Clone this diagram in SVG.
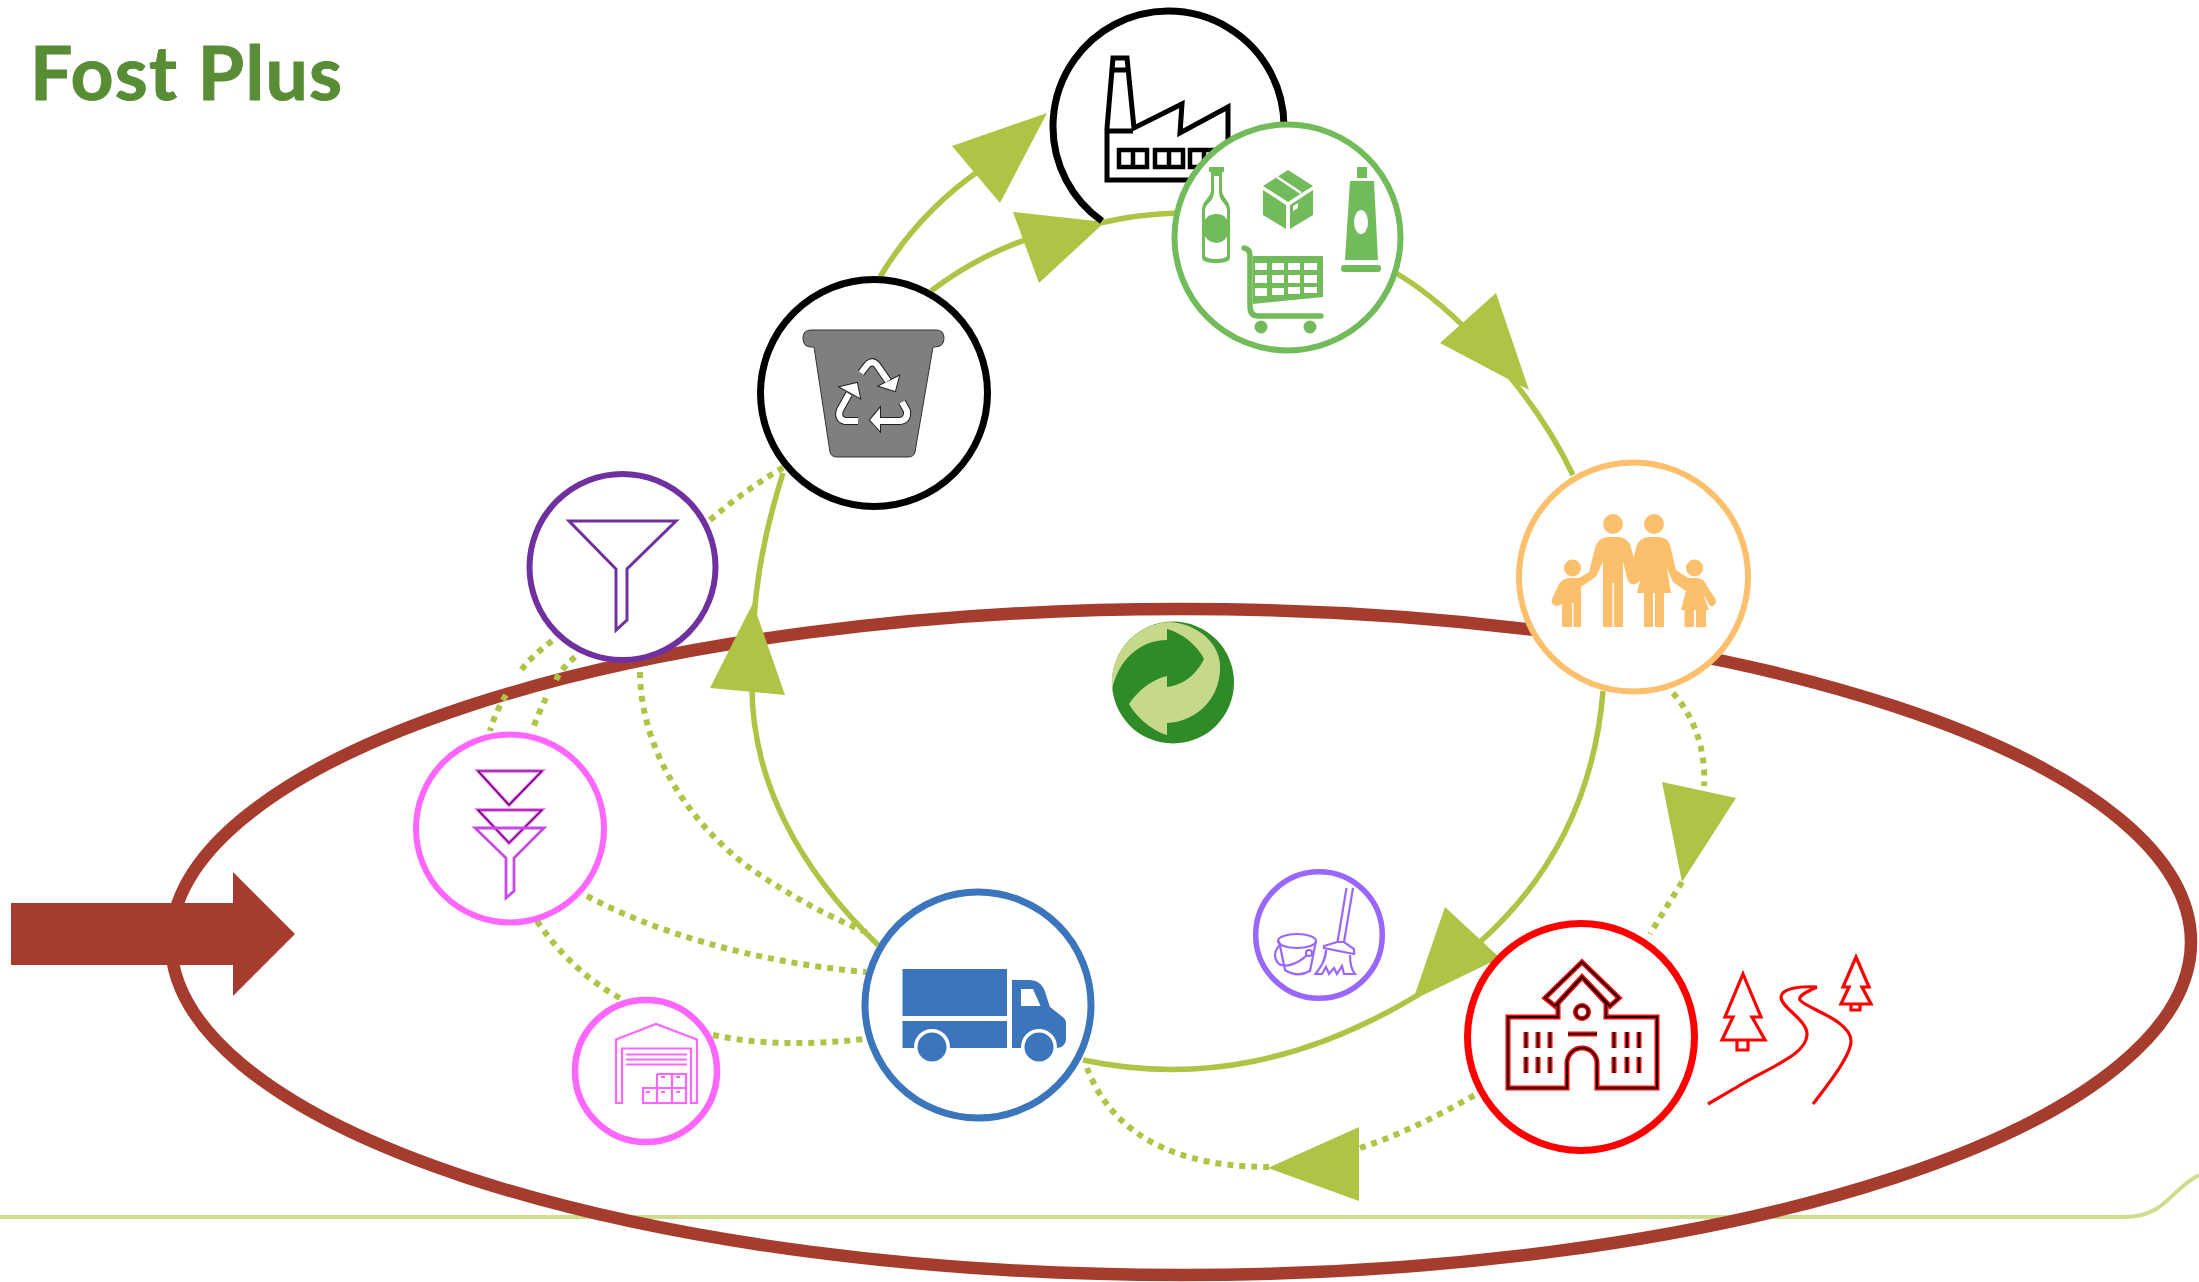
<svg xmlns="http://www.w3.org/2000/svg" width="2199" height="1282" viewBox="0 0 2199 1282">
<style>
.sol{fill:none;stroke:#AEC445;stroke-width:5.5}
.dot{fill:none;stroke:#AEC445;stroke-width:6;stroke-dasharray:6 6}
.head{fill:#AEC445}
.blk{fill:none;stroke:#000;stroke-width:5}
.grn{fill:#72BB5A}
.bw{fill:#fff}
.fam{fill:#FCBF6B}
.rw{fill:none;stroke:#FF0000;stroke-width:5}
.rk{fill:none;stroke:#200000;stroke-width:2}
.rd{fill:none;stroke:#FF0000;stroke-width:3.2}
.mg{fill:none;stroke:#FF66FF;stroke-width:2.2}
.pr{fill:none;stroke:#9966FF;stroke-width:2.2}
</style>
<rect width="2199" height="1282" fill="#fff"/>
<text id="title" x="30" y="100" font-family="Lato, 'Open Sans', sans-serif" font-weight="700" font-size="75" fill="#588D35" stroke="#588D35" stroke-width="1" textLength="312" lengthAdjust="spacing">Fost Plus</text>

<path id="baseline" d="M0,1217 H2125 C2165,1217 2170,1190 2199,1175" fill="none" stroke="#CFDC8C" stroke-width="4"/>
<ellipse id="boundary" cx="1181" cy="942" rx="1010" ry="333" fill="none" stroke="#A63C2E" stroke-width="12.5"/>
<polygon id="entry-arrow" points="11,903 233,903 233,872 295,934 233,996 233,965 11,965" fill="#A63C2E"/>

<g id="connectors">
<path class="dot" d="M710,520 Q745,490 784,467"/>
<path class="dot" d="M552,641 C540,650 528,660 520,672 M506,695 C498,708 493,720 490,731"/>
<path class="dot" d="M575,657 C567,664 560,671 556,680 M546,698 C541,708 536,720 532,731"/>
<path class="dot" d="M640,672 C640,740 680,815 747,866 C785,893 825,915 868,933"/>
<path class="dot" d="M587,896 C650,930 750,962 866,972"/>
<path class="dot" d="M537,921 C560,955 590,982 620,998"/>
<path class="dot" d="M713,1035 C760,1045 810,1045 864,1039"/>
<path class="dot" d="M1087,1068 C1105,1115 1150,1167 1269,1167"/>
<path class="dot" d="M1360,1148 C1400,1135 1440,1115 1480,1092"/>
<path class="dot" d="M1673,693 C1697,720 1706,755 1704,786"/>
<path class="dot" d="M1682,882 L1650,934"/>
<path class="sol" d="M880,277 C905,235 940,198 980,170"/>
<path class="sol" d="M931,291 C985,250 1040,230 1105,222 C1130,216 1150,214 1176,213"/>
<path class="sol" d="M1396,273 C1450,305 1530,385 1573,475"/>
<path class="sol" d="M1603,691 C1595,790 1555,875 1480,942"/>
<path class="sol" d="M1083,1060 C1200,1085 1310,1060 1418,995"/>
<path class="sol" d="M878,945 C800,870 750,780 752,680 C751,600 762,540 783,473"/>
<polygon class="head" points="1047,113 952,146 1000,203"/>
<polygon class="head" points="1105,222 1013,212 1039,283"/>
<polygon class="head" points="1529,390 1496,293 1440,343"/>
<polygon class="head" points="1500,958 1445,907 1413,1000"/>
<polygon class="head" points="753,603 710,688 785,695"/>
<polygon class="head" points="1268,1168 1359,1127 1359,1201"/>
<polygon class="head" points="1682,882 1736,798 1662,782"/>
</g>

<g id="node-factory">
<path d="M1102,221 A115.5,115.5 0 1 1 1284,126" fill="none" stroke="#000" stroke-width="7"/>
<path class="blk" d="M1107,180 V128 L1113,58 H1127 L1134,128 L1182,104 L1180,133 L1228,107 V180 Z"/>
<path class="blk" d="M1107,131 H1133 M1112,70 H1128"/>
<g class="blk" style="stroke-width:4.5"><rect x="1119" y="150" width="28" height="17"/><rect x="1155" y="150" width="28" height="17"/><rect x="1190" y="150" width="28" height="17"/><path d="M1133,150 V167 M1169,150 V167 M1204,150 V167"/></g>
</g>

<g id="node-products">
<circle cx="1287.5" cy="237.5" r="113" fill="#fff" stroke="#72BB5A" stroke-width="6"/>
<path class="grn" d="M1209,167 H1224 V172 H1222 V190 C1222,198 1230,200 1230,210 V258 C1230,262 1222,263 1216,263 C1210,263 1202,262 1202,258 V210 C1202,200 1211,198 1211,190 V172 H1209 Z"/>
<path class="bw" d="M1205,211 C1205,203 1213,203 1214,193 V176 H1219 V193 C1220,203 1227,203 1227,211 V220 C1224,212 1209,212 1205,220 Z M1205,236 C1209,245 1224,245 1227,236 V256 C1224,260 1208,260 1205,256 Z"/>
<polygon class="grn" points="1288,170 1313,186 1288,202 1263,186"/>
<polygon class="grn" points="1263,190 1286,205 1286,229 1263,215"/>
<polygon class="grn" points="1290,205 1313,190 1313,215 1290,229"/>
<path d="M1277,177 L1301,193" stroke="#fff" stroke-width="2.5" fill="none"/>
<polygon class="bw" points="1293,206 1298,203 1298,208 1293,211"/>
<rect class="grn" x="1357" y="167" width="10" height="11"/>
<polygon class="grn" points="1350,181 1374,181 1378,260 1345,260"/>
<ellipse class="bw" cx="1361" cy="222" rx="7" ry="12"/>
<rect class="grn" x="1341" y="265" width="40" height="7" rx="3"/>
<path d="M1244,248 Q1250,249 1250,256 V306 Q1250,316 1258,316 H1321" fill="none" stroke="#72BB5A" stroke-width="5.5" stroke-linecap="round"/>
<polygon class="grn" points="1253,256 1323,256 1323,297 1253,304"/>
<g class="bw"><rect x="1255" y="263" width="12" height="7"/><rect x="1272" y="263" width="12" height="7"/><rect x="1288" y="263" width="12" height="7"/><rect x="1304" y="263" width="13" height="7"/><rect x="1255" y="275" width="12" height="8"/><rect x="1272" y="275" width="12" height="8"/><rect x="1288" y="275" width="12" height="8"/><rect x="1304" y="275" width="13" height="8"/><rect x="1255" y="288" width="12" height="8"/><rect x="1272" y="288" width="12" height="7"/><rect x="1288" y="287" width="12" height="7"/><rect x="1304" y="287" width="13" height="6"/></g>
<circle class="grn" cx="1261" cy="327" r="6.5"/><circle class="grn" cx="1310" cy="327" r="6.5"/>
</g>

<g id="node-bin">
<circle cx="874" cy="393" r="113.5" fill="#fff" stroke="#000" stroke-width="7"/>
<path d="M811,330 H936 Q944,330 944,338 Q944,347 935,347 H933 L915,452 Q914,457 908,457 H837 Q831,457 830,452 L814,347 H811 Q803,347 803,338 Q803,330 811,330 Z" fill="#7F7F7F" stroke="#333" stroke-width="1"/>
<g fill="none" stroke="#222" stroke-width="8"><path d="M861,373 L868,364 Q873,360 877,365 L888,381"/><path d="M902,402 L907,411 Q908,420 900,421 H878"/><path d="M858,421 H845 Q837,419 840,410 L849,394"/></g>
<g fill="#222" stroke="#222" stroke-width="2"><polygon points="899,376 895,391 879,386"/><polygon points="880,408 870,420 880,431"/><polygon points="840,387 857,383 860,398"/></g>
<g fill="none" stroke="#fff" stroke-width="6"><path d="M861,373 L868,364 Q873,360 877,365 L888,381"/><path d="M902,402 L907,411 Q908,420 900,421 H878"/><path d="M858,421 H845 Q837,419 840,410 L849,394"/></g>
<g fill="#fff"><polygon points="899,376 895,391 879,386"/><polygon points="880,408 870,420 880,431"/><polygon points="840,387 857,383 860,398"/></g>
</g>

<g id="node-funnel">
<circle cx="622.5" cy="567" r="93" fill="#fff" stroke="#7030A0" stroke-width="6"/>
<path d="M569,521 H676 L627,569 V620 L616,630 V569 Z" fill="none" stroke="#7030A0" stroke-width="3"/>
</g>

<g id="node-presort">
<circle cx="510" cy="828.5" r="94" fill="#fff" stroke="#FF66FF" stroke-width="6"/>
<g fill="none" stroke="#FF66FF" stroke-width="3.4"><path d="M478,771 H542 L509,805 Z"/><path d="M478,810 H542 L509,843 Z"/></g>
<g fill="none" stroke="#4a0a5a" stroke-width="1.2"><path d="M478,771 H542 L509,805 Z"/><path d="M478,810 H542 L509,843 Z"/></g>
<path d="M475,828 H544 L514,858 V891 L506,898 V858 Z" fill="none" stroke="#C84AE6" stroke-width="2.8"/>
</g>

<g id="node-warehouse">
<circle cx="646" cy="1071" r="71" fill="#fff" stroke="#FF66FF" stroke-width="6.5"/>
<path class="mg" d="M616,1103 V1039.5 L656,1024 L697,1039.5 V1103 H691 V1048.5 H622 V1103 Z"/>
<path class="mg" d="M626,1054.5 H687 M626,1059.5 H687 M626,1064.5 H687"/>
<path class="mg" d="M643,1088 H686 V1103 H643 Z M657,1074 H686 V1103 M657,1074 V1103 M672,1074 V1103"/>
<path d="M646,1092 h4 M661,1092 h4 M676,1092 h4 M661,1077 h4 M676,1077 h4" stroke="#FF66FF" stroke-width="2" fill="none"/>
</g>

<g id="node-truck">
<circle cx="978" cy="1005" r="113" fill="#fff" stroke="#3B75BB" stroke-width="7"/>
<rect x="902.5" y="969" width="104.5" height="47" fill="#3B75BB"/>
<rect x="902.5" y="1021" width="104.5" height="27" fill="#3B75BB"/>
<path d="M1012,980 H1030 Q1043,981 1046,995 L1050,1007 L1064,1018 Q1066,1020 1066,1024 V1040 Q1065,1047 1057,1048 H1012 Z" fill="#3B75BB"/>
<polygon points="1021,989 1033,989 1040.5,1006 1021,1006" fill="#fff"/>
<circle cx="932" cy="1047" r="18" fill="#fff"/><rect x="900" y="1048" width="64" height="12" fill="#fff"/>
<circle cx="1039" cy="1047" r="18" fill="#fff"/>
<circle cx="932" cy="1047" r="14.5" fill="#3B75BB"/><circle cx="1039" cy="1047" r="14.5" fill="#3B75BB"/>
</g>

<g id="node-cleaning">
<circle cx="1319" cy="935" r="63.3" fill="#fff" stroke="#9966FF" stroke-width="5.5"/>
<ellipse class="pr" cx="1297" cy="941" rx="19" ry="7"/>
<path class="pr" d="M1279,941 L1285,970 Q1297,978 1310,971 L1316,941"/>
<circle class="pr" cx="1309" cy="953" r="3"/>
<path class="pr" d="M1307,955 C1298,964 1285,968 1279,964 C1273,958 1274,950 1281,944"/>
<path class="pr" d="M1346.5,888 L1337.5,942 M1353,888 L1344,942"/>
<path class="pr" d="M1324,946 L1337,942 H1344 L1354,949 V954 L1324,948 Z"/>
<path class="pr" d="M1326,950 C1326,960 1320,968 1315.5,974 H1322 L1326,967 L1329,974 L1334,968 L1337,974 L1342,966 L1344,974 H1355 C1350,968 1350,960 1350,955"/>
</g>

<g id="node-school">
<circle cx="1581" cy="1037" r="113.5" fill="#fff" stroke="#FF0000" stroke-width="7"/>
<g class="rw"><path d="M1508,1017 H1558 V1003 L1582,977 L1606,1003 V1017 H1657 V1088 H1597 V1063 A15,15 0 0 0 1567,1063 V1088 H1508 Z"/><path d="M1582,962 L1619,998 L1610,1006 L1582,977 L1555,1006 L1545,998 Z"/><circle cx="1582" cy="1012" r="6.5"/><path d="M1568,1034 H1597 M1526,1032 V1048 M1538,1032 V1048 M1550,1032 V1048 M1526,1057 V1073 M1538,1057 V1073 M1550,1057 V1073 M1614,1032 V1048 M1627,1032 V1048 M1639,1032 V1048 M1614,1057 V1073 M1627,1057 V1073 M1639,1057 V1073"/></g>
<g class="rk"><path d="M1508,1017 H1558 V1003 L1582,977 L1606,1003 V1017 H1657 V1088 H1597 V1063 A15,15 0 0 0 1567,1063 V1088 H1508 Z"/><path d="M1582,962 L1619,998 L1610,1006 L1582,977 L1555,1006 L1545,998 Z"/><circle cx="1582" cy="1012" r="6.5"/><path d="M1568,1034 H1597 M1526,1032 V1048 M1538,1032 V1048 M1550,1032 V1048 M1526,1057 V1073 M1538,1057 V1073 M1550,1057 V1073 M1614,1032 V1048 M1627,1032 V1048 M1639,1032 V1048 M1614,1057 V1073 M1627,1057 V1073 M1639,1057 V1073"/></g>
<g class="rd"><path d="M1743,974 L1761,1017 H1752 L1765,1040 H1722 L1733,1017 H1725 Z M1737,1040 V1050 H1748 V1040"/><path d="M1856,957 L1869,987 H1862 L1871,1004 H1841 L1849,987 H1843 Z M1851,1004 V1010 H1860 V1004"/><path d="M1817,987 C1800,986 1782,988 1781,997 C1781,1008 1808,1020 1807,1035 C1806,1055 1770,1067 1737,1087 L1708,1104"/><path d="M1817,987 C1806,992 1798,996 1800,1000 C1805,1008 1851,1020 1851,1041 C1851,1055 1830,1082 1813,1104"/></g>
</g>

<g id="node-family">
<circle cx="1633.5" cy="577" r="114.5" fill="#fff" stroke="#FCBF6B" stroke-width="6"/>
<g class="fam"><circle cx="1613" cy="524" r="10"/><circle cx="1654" cy="524" r="10"/><circle cx="1572.5" cy="568" r="8.5"/><circle cx="1694.5" cy="568" r="8.5"/>
<path d="M1607,537 H1619 Q1626,538 1630,544 L1638,573 L1640,578 Q1638,585 1632,584 Q1629,583 1627,578 L1623,561 V627 H1614 V583 H1612.5 V627 H1603 V561 L1598,573 Q1597,576 1594,578 L1581,587 V627 H1573.5 V603 H1572 V627 H1562 V604 L1558,606 Q1550,606 1552,599 L1558,586 Q1562,578 1570,578 H1579 L1589,572 L1595,548 Q1597,539 1607,537 Z"/>
<path d="M1648,537 H1660 Q1668,538 1670,545 L1676,570 L1688,578 H1696 Q1704,578 1707,586 L1716,600 Q1716,607 1710,606 L1703,594 L1709,610 H1706 V627 H1696 V610 H1694 V627 H1684.5 V610 H1681 L1686,591 L1673,582 L1667,569 L1671,593 H1664 V627 H1655 V593 H1653 V627 H1644 V593 H1637 L1645,561 L1641,578 Q1638,585 1632,584 Q1627,582 1628,578 L1637,545 Q1640,538 1648,537 Z"/></g>
</g>

<g id="node-logo">
<circle cx="1173" cy="682.5" r="61" fill="#2E8B28"/>
<path d="M1112,690 A61,61 0 0 1 1170,622 C1205,625 1222,650 1220,670 C1219,700 1195,722 1167,723 V735 C1150,730 1135,715 1129,704 C1137,692 1150,680 1167,676 V687 C1185,685 1198,672 1204,659 C1197,645 1182,633 1167,629 V640 C1140,640 1118,660 1112,690 Z" fill="#C6D98A"/>
</g>
</svg>
